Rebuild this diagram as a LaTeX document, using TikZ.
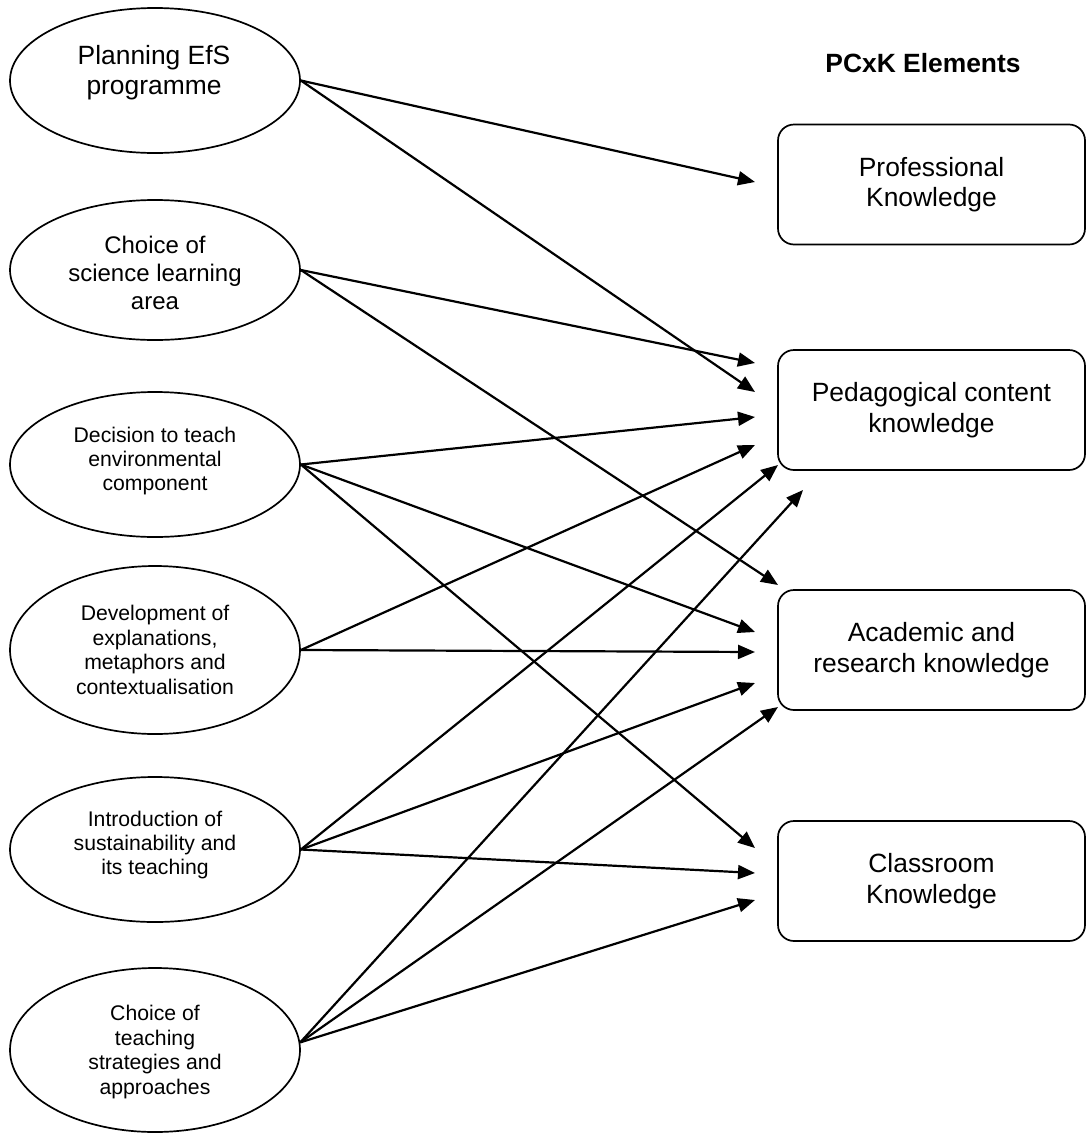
\documentclass[tikz,border=0pt]{standalone}
\usepackage{fontspec}
\setmainfont{Liberation Sans}
\usetikzlibrary{arrows.meta,shapes.geometric}
\begin{document}
\begin{tikzpicture}[x=1pt,y=-1pt,
  oval/.style={ellipse, draw, line width=1.7pt, minimum width=290pt, inner sep=0pt},
  kbox/.style={draw, rounded corners=16pt, line width=1.7pt, minimum width=307pt, minimum height=120pt, align=center, font=\fontsize{26.4}{30.4}\selectfont},
  bigtxt/.style={align=center, inner sep=0pt, font=\fontsize{26.4}{30.6}\selectfont},
  midtxt/.style={align=center, inner sep=0pt, font=\fontsize{24}{28}\selectfont},
  smalltxt/.style={align=center, inner sep=0pt, font=\fontsize{21.2}{24.4}\selectfont},
  conn/.style={line width=2.2pt, -{Triangle[length=17pt,width=14pt]}}]
\useasboundingbox (0,0) rectangle (1086,1133);
% ellipses
\node[oval, minimum height=145pt] (e1) at (155,80.5) {};
\node[oval, minimum height=140pt] (e2) at (155,270) {};
\node[oval, minimum height=145pt] (e3) at (155,464.5) {};
\node[oval, minimum height=168pt] (e4) at (155,650) {};
\node[oval, minimum height=145pt] (e5) at (155,849.5) {};
\node[oval, minimum height=164pt] (e6) at (155,1050) {};
% ellipse texts
\node[bigtxt] (e1t) at (154,72.7) {Planning EfS\\programme};
\node[midtxt] (e2t) at (155,273) {Choice of\\science learning\\area};
\node[smalltxt] (e3t) at (155,461) {Decision to teach\\environmental\\component};
\node[smalltxt] (e4t) at (155,650) {Development of\\explanations,\\metaphors and\\contextualisation};
\node[smalltxt] (e5t) at (155,845) {Introduction of\\sustainability and\\its teaching};
\node[smalltxt] (e6t) at (155,1052) {Choice of\\teaching\\strategies and\\approaches};
% title and boxes
\node[font=\bfseries\fontsize{26.4}{30.4}\selectfont, inner sep=0pt] (title) at (923,63) {PCxK Elements};
\node[kbox] (b1) at (931.5,184.5) {Professional\\Knowledge};
\node[kbox] (b2) at (931.5,410) {Pedagogical content\\knowledge};
\node[kbox] (b3) at (931.5,650) {Academic and\\research knowledge};
\node[kbox] (b4) at (931.5,881) {Classroom\\Knowledge};
% arrow tips
\coordinate (t11) at (755,182);
\coordinate (t12) at (755,392);
\coordinate (t21) at (755,363);
\coordinate (t22) at (778,585);
\coordinate (t31) at (755,417);
\coordinate (t32) at (755,632);
\coordinate (t33) at (755,848);
\coordinate (t41) at (755,445);
\coordinate (t42) at (755,652);
\coordinate (t51) at (778,465);
\coordinate (t52) at (755,683);
\coordinate (t53) at (755,873);
\coordinate (t61) at (803,490);
\coordinate (t62) at (778,707);
\coordinate (t63) at (755,900);
% connectors
\draw[conn] (e1.east) -- (t11);
\draw[conn] (e1.east) -- (t12);
\draw[conn] (e2.east) -- (t21);
\draw[conn] (e2.east) -- (t22);
\draw[conn] (e3.east) -- (t31);
\draw[conn] (e3.east) -- (t32);
\draw[conn] (e3.east) -- (t33);
\draw[conn] (e4.east) -- (t41);
\draw[conn] (e4.east) -- (t42);
\draw[conn] (e5.east) -- (t51);
\draw[conn] (e5.east) -- (t52);
\draw[conn] (e5.east) -- (t53);
\draw[conn] (e6.3) -- (t61);
\draw[conn] (e6.3) -- (t62);
\draw[conn] (e6.3) -- (t63);
\end{tikzpicture}
\end{document}
